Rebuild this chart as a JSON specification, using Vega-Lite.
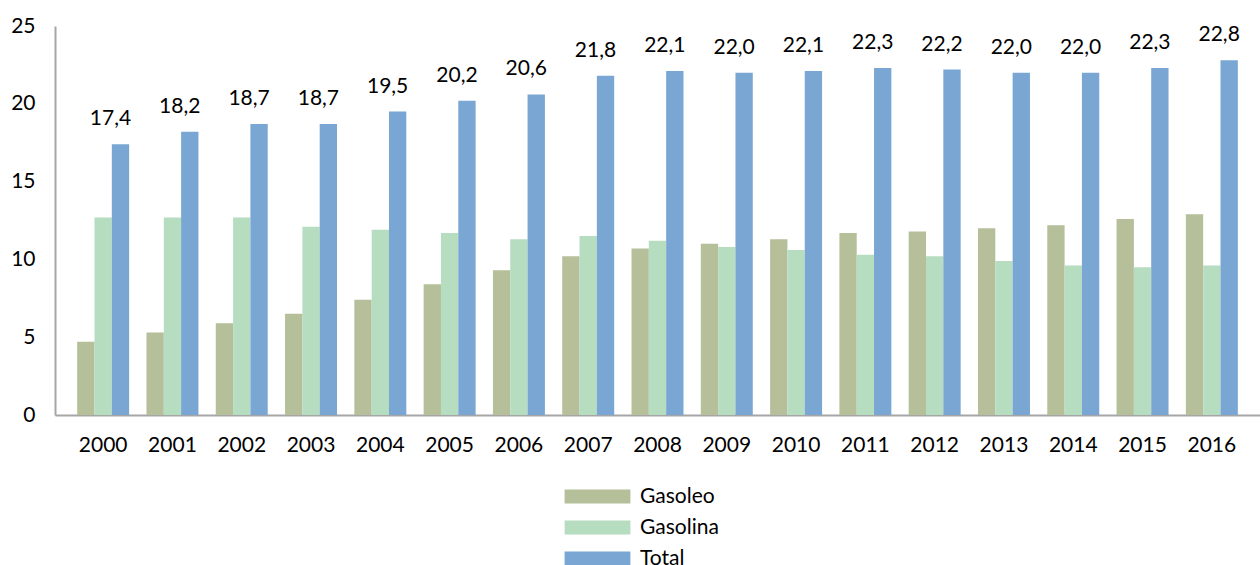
{
  "$schema": "https://vega.github.io/schema/vega-lite/v6.json",
  "width": 1205,
  "height": 389,
  "autosize": "none",
  "padding": {"left": 55, "top": 26, "right": 0, "bottom": 150},
  "background": "white",
  "config": {
    "view": {"stroke": null},
    "font": "Lato",
    "locale": {"number": {"decimal": ",", "thousands": ".", "grouping": [3], "currency": ["", " €"]}}
  },
  "data": {"values": [
    {"year": "2000", "fuel": "Gasoleo", "value": 4.7}, {"year": "2000", "fuel": "Gasolina", "value": 12.7}, {"year": "2000", "fuel": "Total", "value": 17.4},
    {"year": "2001", "fuel": "Gasoleo", "value": 5.3}, {"year": "2001", "fuel": "Gasolina", "value": 12.7}, {"year": "2001", "fuel": "Total", "value": 18.2},
    {"year": "2002", "fuel": "Gasoleo", "value": 5.9}, {"year": "2002", "fuel": "Gasolina", "value": 12.7}, {"year": "2002", "fuel": "Total", "value": 18.7},
    {"year": "2003", "fuel": "Gasoleo", "value": 6.5}, {"year": "2003", "fuel": "Gasolina", "value": 12.1}, {"year": "2003", "fuel": "Total", "value": 18.7},
    {"year": "2004", "fuel": "Gasoleo", "value": 7.4}, {"year": "2004", "fuel": "Gasolina", "value": 11.9}, {"year": "2004", "fuel": "Total", "value": 19.5},
    {"year": "2005", "fuel": "Gasoleo", "value": 8.4}, {"year": "2005", "fuel": "Gasolina", "value": 11.7}, {"year": "2005", "fuel": "Total", "value": 20.2},
    {"year": "2006", "fuel": "Gasoleo", "value": 9.3}, {"year": "2006", "fuel": "Gasolina", "value": 11.3}, {"year": "2006", "fuel": "Total", "value": 20.6},
    {"year": "2007", "fuel": "Gasoleo", "value": 10.2}, {"year": "2007", "fuel": "Gasolina", "value": 11.5}, {"year": "2007", "fuel": "Total", "value": 21.8},
    {"year": "2008", "fuel": "Gasoleo", "value": 10.7}, {"year": "2008", "fuel": "Gasolina", "value": 11.2}, {"year": "2008", "fuel": "Total", "value": 22.1},
    {"year": "2009", "fuel": "Gasoleo", "value": 11.0}, {"year": "2009", "fuel": "Gasolina", "value": 10.8}, {"year": "2009", "fuel": "Total", "value": 22.0},
    {"year": "2010", "fuel": "Gasoleo", "value": 11.3}, {"year": "2010", "fuel": "Gasolina", "value": 10.6}, {"year": "2010", "fuel": "Total", "value": 22.1},
    {"year": "2011", "fuel": "Gasoleo", "value": 11.7}, {"year": "2011", "fuel": "Gasolina", "value": 10.3}, {"year": "2011", "fuel": "Total", "value": 22.3},
    {"year": "2012", "fuel": "Gasoleo", "value": 11.8}, {"year": "2012", "fuel": "Gasolina", "value": 10.2}, {"year": "2012", "fuel": "Total", "value": 22.2},
    {"year": "2013", "fuel": "Gasoleo", "value": 12.0}, {"year": "2013", "fuel": "Gasolina", "value": 9.9}, {"year": "2013", "fuel": "Total", "value": 22.0},
    {"year": "2014", "fuel": "Gasoleo", "value": 12.2}, {"year": "2014", "fuel": "Gasolina", "value": 9.6}, {"year": "2014", "fuel": "Total", "value": 22.0},
    {"year": "2015", "fuel": "Gasoleo", "value": 12.6}, {"year": "2015", "fuel": "Gasolina", "value": 9.5}, {"year": "2015", "fuel": "Total", "value": 22.3},
    {"year": "2016", "fuel": "Gasoleo", "value": 12.9}, {"year": "2016", "fuel": "Gasolina", "value": 9.6}, {"year": "2016", "fuel": "Total", "value": 22.8}
  ]},
  "encoding": {
    "x": {
      "field": "year", "type": "nominal",
      "scale": {"paddingInner": 0.25, "paddingOuter": 0.32},
      "axis": {"title": null, "labelAngle": 0, "ticks": false, "labelPadding": 19, "labelFontSize": 21, "labelColor": "#000000", "labelFont": "Lato", "domainColor": "#a6a6a6", "domainWidth": 2, "grid": false}
    },
    "xOffset": {"field": "fuel", "type": "nominal", "scale": {"domain": ["Gasoleo", "Gasolina", "Total"], "paddingInner": 0}},
    "y": {
      "field": "value", "type": "quantitative",
      "scale": {"domain": [0, 25], "nice": false},
      "axis": {"title": null, "values": [0, 5, 10, 15, 20, 25], "grid": false, "ticks": false, "labelPadding": 20, "labelFontSize": 21, "labelColor": "#000000", "labelFont": "Lato", "domainColor": "#a6a6a6", "domainWidth": 2}
    }
  },
  "layer": [
    {
      "mark": {"type": "bar"},
      "encoding": {
        "color": {
          "field": "fuel", "type": "nominal",
          "scale": {"domain": ["Gasoleo", "Gasolina", "Total"], "range": ["#b5bf9a", "#b6ddc0", "#79a6d2"]},
          "legend": {
            "title": null, "orient": "none", "legendX": 532, "legendY": 460, "direction": "vertical",
            "symbolType": "M-4.7,-1H4.7V1H-4.7Z", "symbolSize": 196, "symbolStrokeWidth": 0,
            "labelFontSize": 21, "labelFont": "Lato", "labelColor": "#000000", "labelOffset": 32, "rowPadding": 9
          }
        }
      }
    },
    {
      "transform": [{"filter": "datum.fuel === 'Total'"}],
      "mark": {"type": "text", "dy": -25, "dx": -10, "baseline": "middle", "align": "center", "fontSize": 21, "font": "Lato", "color": "#000000"},
      "encoding": {
        "text": {"field": "value", "type": "quantitative", "format": ".1f"}
      }
    }
  ]
}
